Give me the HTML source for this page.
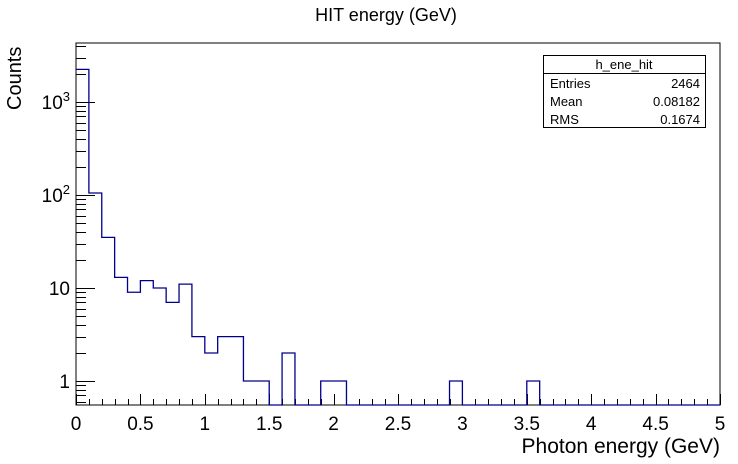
<!DOCTYPE html>
<html><head><meta charset="utf-8"><style>
body{margin:0;background:#fff;}
svg{display:block;font-family:"Liberation Sans",sans-serif;}
</style></head><body>
<svg id="c" width="738" height="464">
<text x="386" y="21" font-size="18" text-anchor="middle">HIT energy (GeV)</text>
<text x="720" y="453" font-size="21" text-anchor="end">Photon energy (GeV)</text>
<text transform="translate(21,110) rotate(-90)" font-size="20" text-anchor="start">Counts</text>
<rect x="76" y="43" width="644" height="362" fill="none" stroke="#000" stroke-width="1"/>
<g id="ticks"></g>
<path id="hist" fill="none" stroke="#00008b" stroke-width="1.3"/>
<g>
<rect x="543.5" y="55.5" width="162" height="72" fill="#fff" stroke="#000"/>
<line x1="543.5" y1="73.5" x2="705.5" y2="73.5" stroke="#000"/>
<text x="624" y="69" font-size="13" text-anchor="middle">h_ene_hit</text>
<text x="550" y="88" font-size="13">Entries</text><text x="700" y="88" font-size="13" text-anchor="end">2464</text>
<text x="550" y="106" font-size="13">Mean</text><text x="700" y="106" font-size="13" text-anchor="end">0.08182</text>
<text x="550" y="124" font-size="13">RMS</text><text x="700" y="124" font-size="13" text-anchor="end">0.1674</text>
</g>
</svg>
<script>
const binEdgesStart = 0;
const binWidth = 0.1;
const counts = [2243,105,35,13,9,12,10,7,11,3,2,3,3,1,1,0,2,0,0,1,1,0,0,0,0,0,0,0,0,1,0,0,0,0,0,1,0,0,0,0,0,0,0,0,0,0,0,0,0,0];
const xTicks = [0,0.5,1,1.5,2,2.5,3,3.5,4,4.5,5];
const xTickLabels = ["0","0.5","1","1.5","2","2.5","3","3.5","4","4.5","5"];
const yTicks = [1,10,100,1000];

const X0=76,X1=720,Y0=405,Y1=43,xMin=0,xMax=5;
const yMin=Math.pow(10,-24/93), yMax=Math.pow(10,(381-43)/93);
function xs(v){return X0+(v-xMin)/(xMax-xMin)*(X1-X0);}
function ys(v){if(v<=yMin)return Y0;return 381-Math.log10(v)*93;}
const NS="http://www.w3.org/2000/svg";
const g=document.getElementById('ticks');
function line(x1,y1,x2,y2,name){const l=document.createElementNS(NS,'line');
l.setAttribute('x1',x1);l.setAttribute('y1',y1);l.setAttribute('x2',x2);l.setAttribute('y2',y2);l.setAttribute('stroke','#000');


g.appendChild(l);}
function text(x,y,s,anchor,name){const t=document.createElementNS(NS,'text');t.setAttribute('x',x);t.setAttribute('y',y);t.setAttribute('font-size','19');t.setAttribute('text-anchor',anchor);t.innerHTML=s;


g.appendChild(t);}
for(let i=0;i<=50;i++){const v=i*0.1;const x=Math.round(xs(v))+0.5;line(x,Y0,x,Y0-(i%5===0?11:6),'x-tick');}
xTicks.forEach((v,i)=>text(xs(v),430,xTickLabels[i],'middle','x-tick-label'));
for(let d=-1;d<=3;d++){for(let m=1;m<=9;m++){const v=m*Math.pow(10,d);if(v<yMin||v>yMax)continue;const y=Math.round(ys(v))+0.5;line(X0,y,X0+(m===1?19:10),y,'y-tick');}}
yTicks.forEach(v=>{const y=ys(v)+7;let s;if(v===1)s='1';else if(v===10)s='10';else s='10<tspan font-size="13" dy="-8">'+Math.round(Math.log10(v))+'</tspan>';text(X0-6,y,s,'end','y-tick-label');});
let d='';
counts.forEach((c,i)=>{const xa=xs(binEdgesStart+i*binWidth),xb=xs(binEdgesStart+(i+1)*binWidth),y=ys(c);
d+=(i===0?'M'+xa+','+y:'L'+xa+','+y)+'L'+xb+','+y;});
d+='L'+xs(binEdgesStart+counts.length*binWidth)+','+Y0;
document.getElementById('hist').setAttribute('d',d);
</script>
</body></html>
